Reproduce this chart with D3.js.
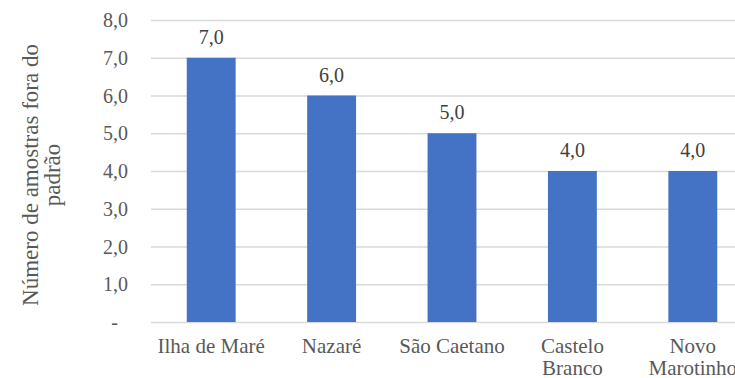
<!DOCTYPE html>
<html><head><meta charset="utf-8">
<script src="https://cdn.jsdelivr.net/npm/d3@7"></script>
<style>body{margin:0;background:#fff}svg{display:block}</style>
</head><body>
<script>
const categories = [["Ilha de Maré"],["Nazaré"],["São Caetano"],["Castelo","Branco"],["Novo","Marotinho"]];
const values = [7.0, 6.0, 5.0, 4.0, 4.0];
const yTicks = [0,1,2,3,4,5,6,7,8];
const yTitle = ["Número de amostras fora do","padrão"];

const FONT="'Liberation Serif','Tinos','Times New Roman','DejaVu Serif',serif";
const W=735,H=378;
const m={left:151,right:-18,top:20,bottom:56};
const svg=d3.select("body").append("svg").attr("width",W).attr("height",H)
 .style("font-family",FONT);
const x=d3.scaleBand().domain(categories.map((d,i)=>i)).range([m.left,W-m.right]).paddingInner(0.594).paddingOuter(0.297);
const y=d3.scaleLinear().domain([0,8]).range([H-m.bottom,m.top]);
const fmt=v=>v===0?"-":d3.format(".1f")(v).replace(".",",");

svg.append("g").selectAll("line").data(yTicks).join("line")
 .attr("x1",m.left).attr("x2",W).attr("y1",d=>y(d)+0.5).attr("y2",d=>y(d)+0.5)
 .attr("stroke","#d9d9d9").attr("stroke-width",1.3);

svg.append("g").selectAll("text").data(yTicks).join("text")
 .attr("x",d=>d===0?118:128).attr("y",d=>y(d)).attr("dy","0.35em").attr("text-anchor","end")
 .attr("font-family",FONT).attr("fill","#595959").style("font-size","20px").text(fmt);

svg.append("g").selectAll("rect").data(values).join("rect")
 .attr("x",(d,i)=>x(i)).attr("width",x.bandwidth()).attr("y",d=>y(d)).attr("height",d=>y(0)-y(d))
 .attr("fill","#4472c4");

svg.append("g").selectAll("text").data(values).join("text")
 .attr("x",(d,i)=>x(i)+x.bandwidth()/2).attr("y",d=>y(d)-14).attr("text-anchor","middle")
 .attr("font-family",FONT).attr("fill","#404040").style("font-size","20px").text(fmt);

const cl=svg.append("g").selectAll("text").data(categories).join("text")
 .attr("x",(d,i)=>x(i)+x.bandwidth()/2).attr("y",353).attr("text-anchor","middle")
 .attr("font-family",FONT).attr("fill","#595959").style("font-size","21px");
cl.selectAll("tspan").data(d=>d).join("tspan")
 .attr("x",function(){return this.parentNode.getAttribute("x");}).attr("dy",(d,i)=>i?"22":"0").text(d=>d);

const t=svg.append("text").attr("transform","translate(38,175) rotate(-90)").attr("text-anchor","middle")
 .attr("font-family",FONT).attr("fill","#595959").style("font-size","23px");
t.selectAll("tspan").data(yTitle).join("tspan").attr("x",0).attr("dy",(d,i)=>i?"22":"0").text(d=>d);
</script>
</body></html>
